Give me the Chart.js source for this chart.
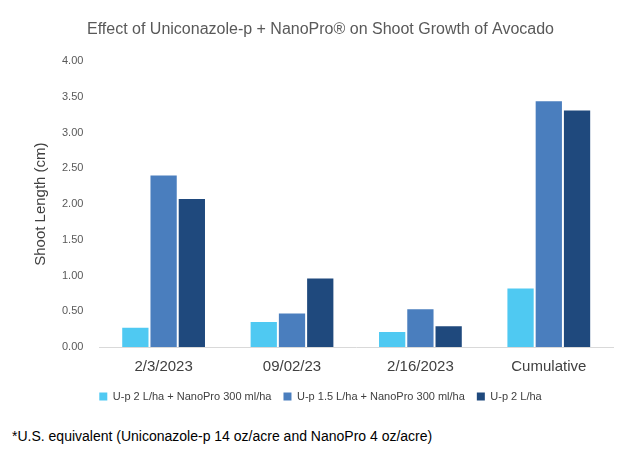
<!DOCTYPE html>
<html>
<head>
<meta charset="utf-8">
<script src="https://cdn.jsdelivr.net/npm/chart.js@4"></script>
<style>
  body { margin:0; background:#fff; font-family: "Liberation Sans", Arial, sans-serif; }
  #wrap { position:relative; width:621px; height:412px; }
  #note { position:absolute; left:12px; top:428px; font-size:14px; color:#000; }
</style>
</head>
<body>
<div id="wrap"><canvas id="myChart"></canvas></div>
<div id="note">*U.S. equivalent (Uniconazole-p 14 oz/acre and NanoPro 4 oz/acre)</div>
<script>
const categories = ['2/3/2023', '09/02/23', '2/16/2023', 'Cumulative'];
const series_labels = ['U-p 2 L/ha + NanoPro 300 ml/ha', 'U-p 1.5 L/ha + NanoPro 300 ml/ha', 'U-p 2 L/ha'];
const series_a = [0.27, 0.35, 0.21, 0.82];
const series_b = [2.40, 0.47, 0.53, 3.44];
const series_c = [2.07, 0.96, 0.29, 3.31];
const series_colors = ['#4FC9F2', '#4A7EBE', '#1F497D'];

const all_series = [series_a, series_b, series_c];
const ctx = document.getElementById('myChart').getContext('2d');
const myChart = new Chart(ctx, {
  type: 'bar',
  data: {
    labels: categories,
    datasets: all_series.map(function(s, i){
      return { label: series_labels[i], data: s, backgroundColor: series_colors[i],
               categoryPercentage: 0.66, barPercentage: 0.93 };
    })
  },
  options: {
    responsive: true,
    maintainAspectRatio: false,
    animation: false,
    layout: { padding: { left: 28, right: 8, top: 12, bottom: 0 } },
    plugins: {
      title: { display: true, text: 'Effect of Uniconazole-p + NanoPro® on Shoot Growth of Avocado',
               color: '#595959', font: { size: 16, weight: 'normal' }, padding: { top: 8, bottom: 22 } },
      legend: { position: 'bottom', labels: { boxWidth: 8, boxHeight: 8, color: '#404040', font: { size: 11 }, padding: 12 } },
      tooltip: { enabled: false }
    },
    scales: {
      x: {
        grid: { display: false },
        border: { color: '#d9d9d9' },
        ticks: { color: '#404040', font: { size: 15 } }
      },
      y: {
        min: 0, max: 4,
        ticks: { stepSize: 0.5, color: '#595959', font: { size: 11 }, padding: 8,
                 callback: function(v){ return v.toFixed(2); } },
        grid: { display: false },
        border: { display: false },
        title: { display: true, text: 'Shoot Length (cm)', color: '#404040', font: { size: 15 } }
      }
    }
  }
});
</script>
</body>
</html>
